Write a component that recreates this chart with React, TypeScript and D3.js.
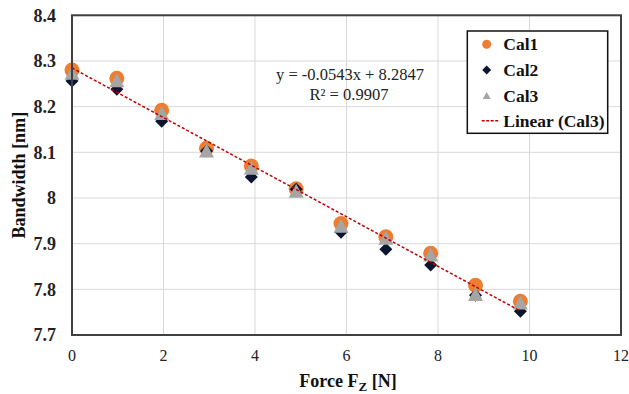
import React from 'react';
import * as d3 from 'd3';

// force steps (N) and measured bandwidths (nm)
const force = [0, 0.98, 1.96, 2.94, 3.92, 4.9, 5.88, 6.86, 7.84, 8.82, 9.8];
const cal1 = [8.28, 8.262, 8.192, 8.109, 8.07, 8.02, 7.944, 7.915, 7.879, 7.809, 7.774];
const cal2 = [8.256, 8.238, 8.168, 8.103, 8.046, 8.019, 7.925, 7.888, 7.853, 7.787, 7.752];
const cal3 = [8.274, 8.258, 8.186, 8.104, 8.066, 8.016, 7.939, 7.913, 7.876, 7.79, 7.771];
const trendSlope = -0.0543;
const trendIntercept = 8.2847;
const xTicks = [0, 2, 4, 6, 8, 10, 12];
const yTicks = [7.7, 7.8, 7.9, 8, 8.1, 8.2, 8.3, 8.4];
const legendLabels = ['Cal1', 'Cal2', 'Cal3', 'Linear (Cal3)'];

const font = 'Times New Roman, Times, Liberation Serif, serif';
const orange = '#ED7D31';
const navy = '#0b1530';
const grey = '#A5A5A5';
const red = '#C00000';

function diamond(cx, cy, h) {
  return `M${cx},${cy - h}L${cx + h},${cy}L${cx},${cy + h}L${cx - h},${cy}Z`;
}
function triangle(cx, cy, w, h) {
  return `M${cx},${cy - h / 2}L${cx + w / 2},${cy + h / 2}L${cx - w / 2},${cy + h / 2}Z`;
}

export default function App() {
  const margin = { top: 15.3, right: 8, bottom: 59, left: 72 };
  const width = 629;
  const height = 394;
  const x = d3.scaleLinear().domain([0, 12]).range([margin.left, width - margin.right]);
  const y = d3.scaleLinear().domain([7.7, 8.4]).range([height - margin.bottom, margin.top]);

  const trend = d3.line<number>()
    .x(d => x(d))
    .y(d => y(trendSlope * d + trendIntercept));

  const lx = 486.7;
  const ly = [44.3, 70, 95.5, 120.7];
  const txt = { fontFamily: font };

  return (
    <svg width={width} height={height} style={{ position: 'absolute', left: 0, top: 0, background: '#fff' }}>
      {/* grid */}
      {xTicks.map(t => (
        <line key={'gx' + t} x1={x(t)} x2={x(t)} y1={y(8.4)} y2={y(7.7)} stroke="#d9d9d9" strokeWidth={1} />
      ))}
      {yTicks.map(t => (
        <line key={'gy' + t} x1={x(0)} x2={x(12)} y1={y(t)} y2={y(t)} stroke="#d9d9d9" strokeWidth={1} />
      ))}

      {/* tick labels */}
      {yTicks.map(t => (
        <text key={'ty' + t} x={56} y={y(t)} dy="0.35em" textAnchor="end"
          style={txt} fontWeight="bold" fontSize={18} fill="#222">{d3.format('')(t)}</text>
      ))}
      {xTicks.map(t => (
        <text key={'tx' + t} x={x(t)} y={361} textAnchor="middle"
          style={txt} fontSize={16} fill="#222">{t}</text>
      ))}

      {/* markers */}
      {force.map((f, i) => (
        <circle key={'c1' + i} cx={x(f)} cy={y(cal1[i])} r={7.5} fill={orange} />
      ))}
      {force.map((f, i) => (
        <path key={'c2' + i} d={diamond(x(f), y(cal2[i]), 6.5)} fill={navy} />
      ))}
      {force.map((f, i) => (
        <path key={'c3' + i} d={triangle(x(f), y(cal3[i]), 15, 14)} fill={grey} />
      ))}

      {/* trendline */}
      <path d={trend([force[0], force[force.length - 1]])} fill="none" stroke={red} strokeWidth={1.5} strokeDasharray="3,2" />

      {/* plot frame */}
      <rect x={x(0)} y={y(8.4)} width={x(12) - x(0)} height={y(7.7) - y(8.4)} fill="none" stroke="#404040" strokeWidth={2} />

      {/* equation */}
      <text x={350} y={80} textAnchor="middle" style={txt} fontSize={16.5} fill="#222">y = -0.0543x + 8.2847</text>
      <text x={349} y={100} textAnchor="middle" style={txt} fontSize={16.5} fill="#222">R² = 0.9907</text>

      {/* legend */}
      <rect x={467.3} y={31} width={140.4} height={102.3} fill="#fff" stroke="#111" strokeWidth={1.5} />
      <circle cx={lx} cy={ly[0]} r={4.5} fill={orange} />
      <path d={diamond(lx, ly[1], 4.5)} fill={navy} />
      <path d={triangle(lx, ly[2], 8, 7)} fill={grey} />
      <line x1={481.7} x2={499} y1={ly[3]} y2={ly[3]} stroke={red} strokeWidth={1.5} strokeDasharray="3,1.5" />
      {legendLabels.map((l, i) => (
        <text key={l} x={503.3} y={ly[i]} dy="0.35em" style={txt} fontWeight="bold" fontSize={17.5} fill="#111">{l}</text>
      ))}

      {/* axis titles */}
      <text x={348} y={387} textAnchor="middle" style={txt} fontWeight="bold" fontSize={18} fill="#111">
        Force F<tspan fontSize={13} dy={4}>Z</tspan><tspan dy={-4}> [N]</tspan>
      </text>
      <text transform={`translate(25,${y(8.05)}) rotate(-90)`} textAnchor="middle"
        style={txt} fontWeight="bold" fontSize={18} fill="#111">Bandwidth [nm]</text>
    </svg>
  );
}
